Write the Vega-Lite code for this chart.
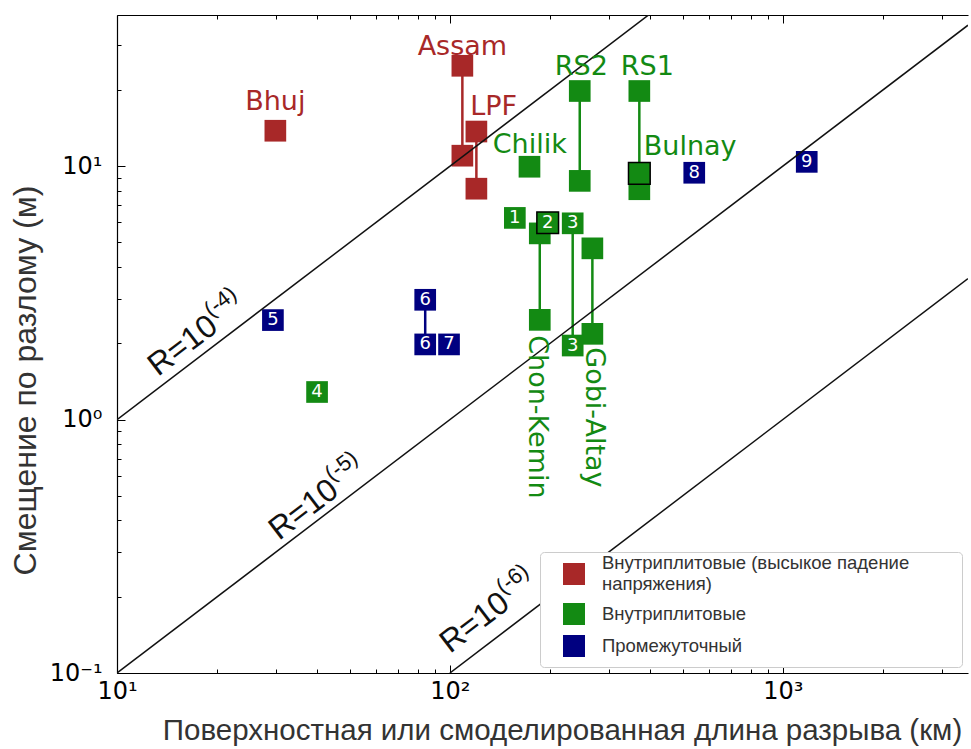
{
  "$schema": "https://vega.github.io/schema/vega-lite/v6.json",
  "width": 851,
  "height": 658,
  "autosize": {"type": "none"},
  "padding": {"left": 117, "top": 15, "right": 3, "bottom": 76},
  "background": "white",
  "config": {
    "view": {"stroke": null},
    "axis": {"grid": false, "domainColor": "#000", "tickColor": "#000", "labelColor": "#000", "labelFont": "DejaVu Sans", "labelFontSize": 24, "titleFont": "Liberation Sans", "titleFontWeight": "normal", "titleColor": "#333"}
  },
  "datasets": {
    "pts": [
      {"cls": "Внутриплитовые (высыкое падение напряжения)", "id": "Bhuj", "L": 29.9, "D": 13.8, "num": ""},
      {"cls": "Внутриплитовые (высыкое падение напряжения)", "id": "Assam", "L": 109.0, "D": 24.9, "num": ""},
      {"cls": "Внутриплитовые (высыкое падение напряжения)", "id": "Assam", "L": 109.0, "D": 11.0, "num": ""},
      {"cls": "Внутриплитовые (высыкое падение напряжения)", "id": "LPF", "L": 120.1, "D": 13.7, "num": ""},
      {"cls": "Внутриплитовые (высыкое падение напряжения)", "id": "LPF", "L": 120.1, "D": 8.15, "num": ""},
      {"cls": "Внутриплитовые", "id": "Chilik", "L": 173.4, "D": 9.95, "num": ""},
      {"cls": "Внутриплитовые", "id": "RS2", "L": 245.5, "D": 19.8, "num": ""},
      {"cls": "Внутриплитовые", "id": "RS2", "L": 245.5, "D": 8.75, "num": ""},
      {"cls": "Внутриплитовые", "id": "RS1", "L": 370.7, "D": 19.8, "num": ""},
      {"cls": "Внутриплитовые", "id": "RS1", "L": 370.7, "D": 8.11, "num": ""},
      {"cls": "Внутриплитовые", "id": "Bulnay", "L": 370.7, "D": 9.37, "num": ""},
      {"cls": "Внутриплитовые", "id": "E1", "L": 156.7, "D": 6.25, "num": "1"},
      {"cls": "Внутриплитовые", "id": "Chon-Kemin", "L": 186.2, "D": 5.43, "num": ""},
      {"cls": "Внутриплитовые", "id": "Chon-Kemin", "L": 186.2, "D": 2.475, "num": ""},
      {"cls": "Внутриплитовые", "id": "E2", "L": 196.7, "D": 5.98, "num": "2"},
      {"cls": "Внутриплитовые", "id": "E3", "L": 233.8, "D": 5.95, "num": "3"},
      {"cls": "Внутриплитовые", "id": "Gobi-Altay", "L": 267.9, "D": 4.74, "num": ""},
      {"cls": "Внутриплитовые", "id": "Gobi-Altay", "L": 267.9, "D": 2.18, "num": ""},
      {"cls": "Внутриплитовые", "id": "E3", "L": 233.8, "D": 1.96, "num": "3"},
      {"cls": "Внутриплитовые", "id": "E4", "L": 39.9, "D": 1.285, "num": "4"},
      {"cls": "Промежуточный", "id": "E5", "L": 29.4, "D": 2.47, "num": "5"},
      {"cls": "Промежуточный", "id": "E6", "L": 84.3, "D": 2.97, "num": "6"},
      {"cls": "Промежуточный", "id": "E6", "L": 84.3, "D": 1.98, "num": "6"},
      {"cls": "Промежуточный", "id": "E7", "L": 99.4, "D": 1.98, "num": "7"},
      {"cls": "Промежуточный", "id": "E8", "L": 542, "D": 9.42, "num": "8"},
      {"cls": "Промежуточный", "id": "E9", "L": 1180, "D": 10.4, "num": "9"}
    ],
    "segs": [
      {"cls": "Внутриплитовые (высыкое падение напряжения)", "L": 109.0, "D1": 11.0, "D2": 24.9},
      {"cls": "Внутриплитовые (высыкое падение напряжения)", "L": 120.1, "D1": 8.15, "D2": 13.7},
      {"cls": "Внутриплитовые", "L": 245.5, "D1": 8.75, "D2": 19.8},
      {"cls": "Внутриплитовые", "L": 370.7, "D1": 9.37, "D2": 19.8},
      {"cls": "Внутриплитовые", "L": 186.2, "D1": 2.475, "D2": 5.43},
      {"cls": "Внутриплитовые", "L": 233.8, "D1": 1.96, "D2": 5.95},
      {"cls": "Внутриплитовые", "L": 267.9, "D1": 2.18, "D2": 4.74},
      {"cls": "Промежуточный", "L": 84.3, "D1": 1.98, "D2": 2.97}
    ],
    "rlines": [
      {"R": "1e-4", "L": 10, "D": 1},
      {"R": "1e-4", "L": 3600, "D": 360},
      {"R": "1e-5", "L": 10, "D": 0.1},
      {"R": "1e-5", "L": 3600, "D": 36},
      {"R": "1e-6", "L": 100, "D": 0.1},
      {"R": "1e-6", "L": 3600, "D": 3.6}
    ],
    "names": [
      {"cls": "Внутриплитовые (высыкое падение напряжения)", "L": 109.0, "D": 27.5, "text": "Assam"},
      {"cls": "Внутриплитовые (высыкое падение напряжения)", "L": 29.9, "D": 16.7, "text": "Bhuj"},
      {"cls": "Внутриплитовые (высыкое падение напряжения)", "L": 135.3, "D": 15.96, "text": "LPF"},
      {"cls": "Внутриплитовые", "L": 173.8, "D": 11.3, "text": "Chilik"},
      {"cls": "Внутриплитовые", "L": 248.3, "D": 22.8, "text": "RS2"},
      {"cls": "Внутриплитовые", "L": 391.7, "D": 22.8, "text": "RS1"},
      {"cls": "Внутриплитовые", "L": 527, "D": 11.1, "text": "Bulnay"}
    ],
    "vnames": [
      {"cls": "Внутриплитовые", "L": 183.2, "D": 1.025, "text": "Chon-Kemin"},
      {"cls": "Внутриплитовые", "L": 271.6, "D": 1.02, "text": "Gobi-Altay"}
    ],
    "rmain": [
      {"L": 13.28, "D": 1.474, "text": "R=10"},
      {"L": 30.65, "D": 0.332, "text": "R=10"},
      {"L": 100, "D": 0.1189, "text": "R=10"}
    ],
    "rsup": [
      {"L": 19.15, "D": 2.525, "text": "(-4)"},
      {"L": 44.2, "D": 0.5685, "text": "(-5)"},
      {"L": 144.3, "D": 0.2036, "text": "(-6)"}
    ]
  },
  "resolve": {"scale": {"x": "shared", "y": "shared"}, "axis": {"x": "independent", "y": "independent"}},
  "layer": [
    {
      "data": {"name": "segs"},
      "mark": {"type": "rule", "strokeWidth": 2.5},
      "encoding": {
        "x": {"field": "L", "type": "quantitative", "scale": {"type": "log", "domain": [10, 3600], "nice": false}, "axis": null},
        "y": {"field": "D1", "type": "quantitative", "scale": {"type": "log", "domain": [0.1, 39.5], "nice": false}, "axis": null},
        "y2": {"field": "D2"},
        "stroke": {"field": "cls", "type": "nominal", "legend": null,
          "scale": {"range": ["#138a13", "#a82828", "#000080"]}}
      }
    },
    {
      "data": {"name": "pts"},
      "mark": {"type": "point", "shape": "square", "filled": true, "size": 470, "opacity": 1},
      "encoding": {
        "x": {"field": "L", "type": "quantitative", "title": "Поверхностная или смоделированная длина разрыва (км)",
          "axis": {"values": [10, 20, 30, 40, 50, 60, 70, 80, 90, 100, 200, 300, 400, 500, 600, 700, 800, 900, 1000, 2000, 3000],
            "labelExpr": "datum.value == 10 ? '10¹' : datum.value == 100 ? '10²' : datum.value == 1000 ? '10³' : ''",
            "tickSize": {"condition": {"test": "datum.value == 10 || datum.value == 100 || datum.value == 1000", "value": -8}, "value": -4},
            "labelPadding": 14, "labelFlush": false, "labelOverlap": false, "domainWidth": 1.2,
            "titleFontSize": 29.5, "titleX": 445, "titleY": 57, "titleBaseline": "middle", "titleAnchor": "middle"}},
        "y": {"field": "D", "type": "quantitative", "title": "Смещение по разлому (м)",
          "axis": {"values": [0.1, 0.2, 0.3, 0.4, 0.5, 0.6, 0.7, 0.8, 0.9, 1, 2, 3, 4, 5, 6, 7, 8, 9, 10, 20, 30],
            "labelExpr": "datum.value == 0.1 ? '10⁻¹' : datum.value == 1 ? '10⁰' : datum.value == 10 ? '10¹' : ''",
            "tickSize": {"condition": {"test": "datum.value == 0.1 || datum.value == 1 || datum.value == 10", "value": -8}, "value": -4},
            "labelPadding": 23, "labelFlush": false, "labelOverlap": false, "domainWidth": 1.2,
            "titleFontSize": 32, "titleX": -92, "titleY": 365, "titleBaseline": "middle", "titleAnchor": "middle"}},
        "color": {"field": "cls", "type": "nominal",
          "scale": {"domain": ["Внутриплитовые (высыкое падение напряжения)", "Внутриплитовые", "Промежуточный"], "range": ["#a82828", "#138a13", "#000080"]},
          "legend": {"title": null, "orient": "bottom-right", "offset": 6, "symbolType": "square", "symbolSize": 484, "symbolOpacity": 1, "symbolOffset": 12,
            "labelFont": "Liberation Sans", "labelFontSize": 18.5, "labelColor": "#333", "labelLimit": 500, "labelOffset": 16,
            "labelExpr": "datum.label == 'Внутриплитовые (высыкое падение напряжения)' ? ['Внутриплитовые (высыкое падение\u2800\u2800\u2800', ' напряжения)'] : datum.label",
            "fillColor": "white", "strokeColor": "#cccccc", "cornerRadius": 4, "padding": 10, "rowPadding": 9,
            "encode": {"labels": {"update": {"dy": {"signal": "datum.value == 'Внутриплитовые (высыкое падение напряжения)' ? -11 : 0"}}}}}}
      }
    },
    {
      "data": {"name": "pts"},
      "transform": [{"filter": "datum.id == 'Bulnay' || datum.id == 'E2'"}],
      "mark": {"type": "point", "shape": "square", "filled": true, "size": 470, "opacity": 1, "stroke": "#000", "strokeWidth": 1.5},
      "encoding": {
        "x": {"field": "L", "type": "quantitative", "axis": null},
        "y": {"field": "D", "type": "quantitative", "axis": null},
        "fill": {"field": "cls", "type": "nominal", "legend": null,
          "scale": {"range": ["#138a13", "#a82828", "#000080"]}}
      }
    },
    {
      "data": {"name": "pts"},
      "transform": [{"filter": "datum.num != ''"}],
      "mark": {"type": "text", "color": "white", "font": "DejaVu Sans", "fontSize": 18, "baseline": "middle", "align": "center"},
      "encoding": {
        "x": {"field": "L", "type": "quantitative", "axis": null},
        "y": {"field": "D", "type": "quantitative", "axis": null},
        "text": {"field": "num"}
      }
    },
    {
      "data": {"name": "rlines"},
      "mark": {"type": "line", "color": "#111", "strokeWidth": 1.5, "clip": true},
      "encoding": {
        "x": {"field": "L", "type": "quantitative",
          "axis": {"orient": "top", "values": [10, 20, 30, 40, 50, 60, 70, 80, 90, 100, 200, 300, 400, 500, 600, 700, 800, 900, 1000, 2000, 3000], "labels": false, "title": null,
            "tickSize": {"condition": {"test": "datum.value == 10 || datum.value == 100 || datum.value == 1000", "value": -8}, "value": -4}, "domainWidth": 1.2}},
        "y": {"field": "D", "type": "quantitative", "axis": null},
        "detail": {"field": "R"}
      }
    },
    {
      "data": {"name": "names"},
      "mark": {"type": "text", "font": "DejaVu Sans", "fontSize": 27, "baseline": "alphabetic", "align": "center"},
      "encoding": {
        "x": {"field": "L", "type": "quantitative", "axis": null},
        "y": {"field": "D", "type": "quantitative", "axis": null},
        "text": {"field": "text"},
        "fill": {"field": "cls", "type": "nominal", "legend": null}
      }
    },
    {
      "data": {"name": "vnames"},
      "mark": {"type": "text", "font": "DejaVu Sans", "fontSize": 27, "baseline": "middle", "align": "center", "angle": 90},
      "encoding": {
        "x": {"field": "L", "type": "quantitative", "axis": null},
        "y": {"field": "D", "type": "quantitative", "axis": null},
        "text": {"field": "text"},
        "fill": {"field": "cls", "type": "nominal", "legend": null}
      }
    },
    {
      "data": {"name": "rmain"},
      "mark": {"type": "text", "font": "Liberation Sans", "fontSize": 32, "baseline": "alphabetic", "align": "left", "angle": 322.7, "color": "#111"},
      "encoding": {
        "x": {"field": "L", "type": "quantitative", "axis": null},
        "y": {"field": "D", "type": "quantitative", "axis": null},
        "text": {"field": "text"}
      }
    },
    {
      "data": {"name": "rsup"},
      "mark": {"type": "text", "font": "Liberation Sans", "fontSize": 22, "baseline": "alphabetic", "align": "left", "angle": 322.7, "color": "#111"},
      "encoding": {
        "x": {"field": "L", "type": "quantitative", "axis": null},
        "y": {"field": "D", "type": "quantitative", "axis": null},
        "text": {"field": "text"}
      }
    }
  ]
}
